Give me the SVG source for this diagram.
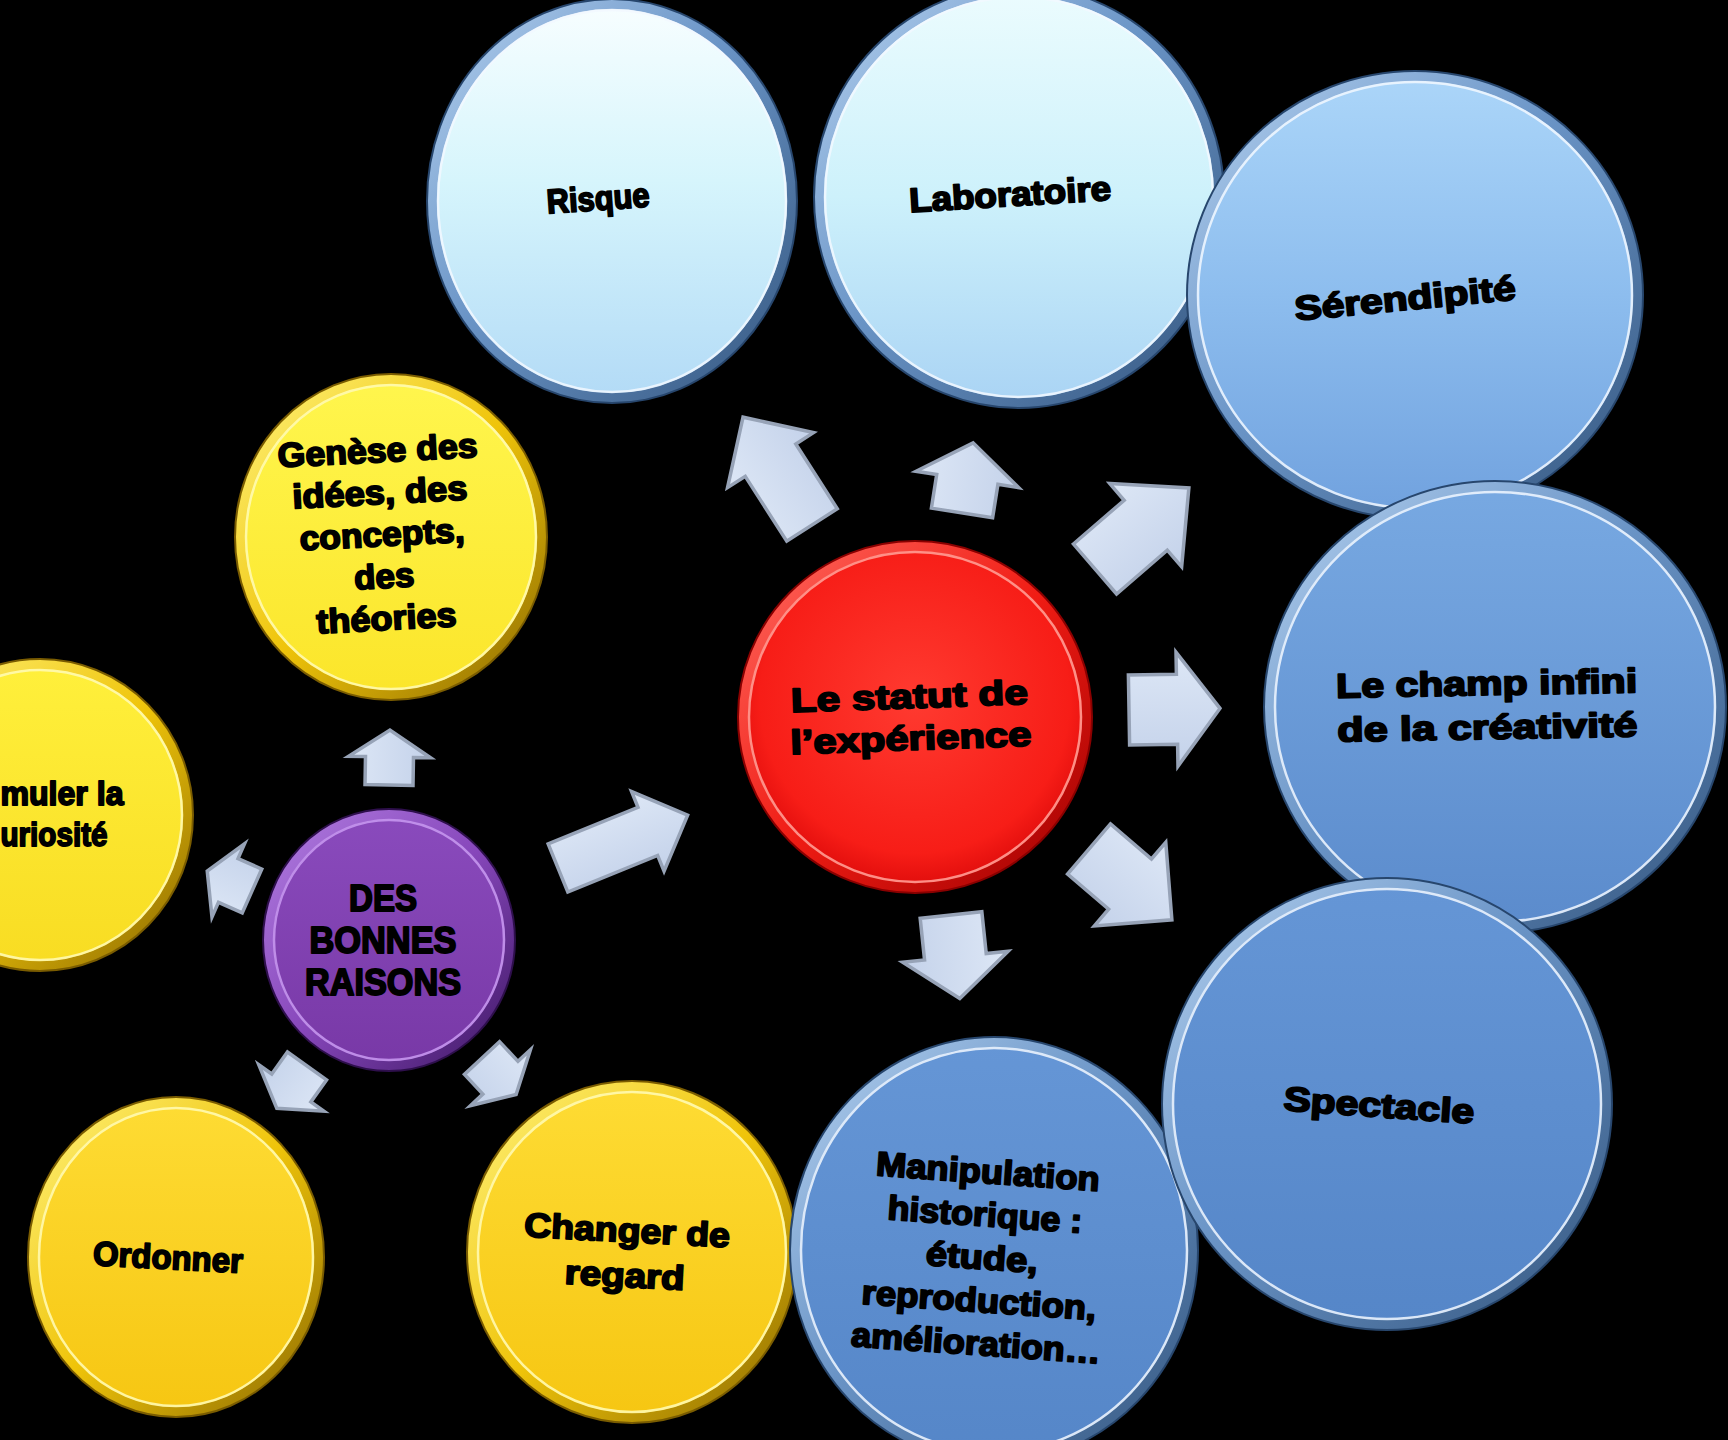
<svg xmlns="http://www.w3.org/2000/svg" width="1728" height="1440" viewBox="0 0 1728 1440">
  <defs>
    <!-- disc fills -->
    <linearGradient id="gRisque" x1="0" y1="0" x2="0" y2="1">
      <stop offset="0" stop-color="#f8feff"/>
      <stop offset="0.45" stop-color="#d6f5fc"/>
      <stop offset="1" stop-color="#b2daf6"/>
    </linearGradient>
    <linearGradient id="gLabo" x1="0" y1="0" x2="0" y2="1">
      <stop offset="0" stop-color="#ecfcfe"/>
      <stop offset="0.5" stop-color="#cdf1fb"/>
      <stop offset="1" stop-color="#a9d3f4"/>
    </linearGradient>
    <linearGradient id="gSeren" x1="0" y1="0" x2="0" y2="1">
      <stop offset="0" stop-color="#acd6f9"/>
      <stop offset="0.5" stop-color="#8dbdee"/>
      <stop offset="1" stop-color="#70a1de"/>
    </linearGradient>
    <linearGradient id="gChamp" x1="0" y1="0" x2="0" y2="1">
      <stop offset="0" stop-color="#78a9e2"/>
      <stop offset="1" stop-color="#5b8bcc"/>
    </linearGradient>
    <linearGradient id="gDeep" x1="0" y1="0" x2="0" y2="1">
      <stop offset="0" stop-color="#6596d6"/>
      <stop offset="1" stop-color="#5586c8"/>
    </linearGradient>
    <radialGradient id="gRed" cx="0.5" cy="0.45" r="0.55">
      <stop offset="0" stop-color="#ff3a30"/>
      <stop offset="0.8" stop-color="#f71d17"/>
      <stop offset="1" stop-color="#dc0a0a"/>
    </radialGradient>
    <linearGradient id="gPurple" x1="0" y1="0" x2="0" y2="1">
      <stop offset="0" stop-color="#8a4bbd"/>
      <stop offset="1" stop-color="#7838a6"/>
    </linearGradient>
    <linearGradient id="gYellowLight" x1="0" y1="0" x2="0" y2="1">
      <stop offset="0" stop-color="#fff64e"/>
      <stop offset="1" stop-color="#fbe52a"/>
    </linearGradient>
    <linearGradient id="gYellow" x1="0" y1="0" x2="0" y2="1">
      <stop offset="0" stop-color="#fff03c"/>
      <stop offset="1" stop-color="#f8dc22"/>
    </linearGradient>
    <linearGradient id="gGold" x1="0" y1="0" x2="0" y2="1">
      <stop offset="0" stop-color="#fedc34"/>
      <stop offset="1" stop-color="#f6c612"/>
    </linearGradient>

    <!-- bevelled rims -->
    <linearGradient id="rimBlue" x1="0" y1="0" x2="1" y2="1">
      <stop offset="0" stop-color="#b3d0ef"/>
      <stop offset="0.45" stop-color="#6a94c6"/>
      <stop offset="1" stop-color="#34567f"/>
    </linearGradient>
    <linearGradient id="rimRed" x1="0" y1="0" x2="1" y2="1">
      <stop offset="0" stop-color="#ff6a60"/>
      <stop offset="0.5" stop-color="#f01c14"/>
      <stop offset="1" stop-color="#9e0000"/>
    </linearGradient>
    <linearGradient id="rimPurple" x1="0" y1="0" x2="1" y2="1">
      <stop offset="0" stop-color="#b07ce0"/>
      <stop offset="0.5" stop-color="#8747bb"/>
      <stop offset="1" stop-color="#3e1764"/>
    </linearGradient>
    <linearGradient id="rimGold" x1="0" y1="0" x2="1" y2="1">
      <stop offset="0" stop-color="#fff27a"/>
      <stop offset="0.5" stop-color="#efc40a"/>
      <stop offset="1" stop-color="#8c6a00"/>
    </linearGradient>

    <linearGradient id="arrowFill" x1="0" y1="0" x2="0" y2="1">
      <stop offset="0" stop-color="#dde7f6"/>
      <stop offset="1" stop-color="#c4d2ea"/>
    </linearGradient>

    <style>
      .lbl { font-family: "Liberation Sans", Arial, sans-serif; font-weight: bold; font-size: 34px;
             fill: #000; stroke: #000; stroke-width: 1.9; stroke-linejoin: round; text-anchor: middle; }
      .rimB { fill: none; stroke: url(#rimBlue); stroke-width: 10; }
      .rimR { fill: none; stroke: url(#rimRed); stroke-width: 10; }
      .rimP { fill: none; stroke: url(#rimPurple); stroke-width: 10; }
      .rimY { fill: none; stroke: url(#rimGold); stroke-width: 10; }
      .edgeB { fill: none; stroke: #27466d; stroke-width: 2; }
      .edgeR { fill: none; stroke: #8a0000; stroke-width: 2; }
      .edgeP { fill: none; stroke: #2e0f4c; stroke-width: 2; }
      .edgeY { fill: none; stroke: #7a5c00; stroke-width: 2; }
      .hl { fill: none; stroke: #f2f8ff; stroke-width: 2.5; opacity: 0.85; }
      .hlR { fill: none; stroke: #ff9c94; stroke-width: 2.5; opacity: 0.9; }
      .hlP { fill: none; stroke: #c596ee; stroke-width: 2.5; opacity: 0.9; }
      .hlY { fill: none; stroke: #fff9b0; stroke-width: 2.5; opacity: 0.9; }
      .arrow { fill: url(#arrowFill); stroke: #97a3b7; stroke-width: 3.5; stroke-linejoin: miter; }
    </style>
  </defs>

  <rect width="1728" height="1440" fill="#000"/>

  <!-- block arrows -->
  <g id="connectors">
    <g transform="translate(812,525) rotate(-122.6)">
      <polygon class="arrow" points="0,-30 77,-30 77,-51 128,0 77,51 77,30 0,30"/>
    </g>
    <g transform="translate(962,513) rotate(-81)">
      <polygon class="arrow" points="0,-31 34,-31 34,-52 71,0 34,52 34,31 0,31"/>
    </g>
    <g transform="translate(1095,569) rotate(-40.8)">
      <polygon class="arrow" points="0,-33 67,-33 67,-55 124,0 67,55 67,33 0,33"/>
    </g>
    <g transform="translate(1129,710) rotate(-1)">
      <polygon class="arrow" points="0,-35 48,-35 48,-57 91,0 48,57 48,35 0,35"/>
    </g>
    <g transform="translate(1089,849) rotate(40.5)">
      <polygon class="arrow" points="0,-33 54,-33 54,-55 109,0 54,55 54,33 0,33"/>
    </g>
    <g transform="translate(951,915) rotate(84)">
      <polygon class="arrow" points="0,-31 42,-31 42,-53 84,0 42,53 42,31 0,31"/>
    </g>
    <g transform="translate(558,868) rotate(-22.2)">
      <polygon class="arrow" points="0,-26 97,-26 97,-43 140,0 97,43 97,26 0,26"/>
    </g>
    <g transform="translate(389,785) rotate(-89)">
      <polygon class="arrow" points="0,-24 28,-24 28,-41 55,0 28,41 28,24 0,24"/>
    </g>
    <g transform="translate(252,891) rotate(-156)">
      <polygon class="arrow" points="0,-24 26,-24 26,-40 49,0 26,40 26,24 0,24"/>
    </g>
    <g transform="translate(307,1066) rotate(125.5)">
      <polygon class="arrow" points="0,-24 27,-24 27,-40 52,0 27,40 27,24 0,24"/>
    </g>
    <g transform="translate(482,1058) rotate(47)">
      <polygon class="arrow" points="0,-24 27,-24 27,-41 50,0 27,41 27,24 0,24"/>
    </g>
  </g>

  <!-- yellow discs -->
  <g id="stimuler">
    <ellipse cx="40" cy="815" rx="152" ry="155" fill="url(#gYellow)"/>
    <ellipse class="rimY" cx="40" cy="815" rx="148" ry="151"/>
    <ellipse class="edgeY" cx="40" cy="815" rx="153" ry="156"/>
    <ellipse class="hlY" cx="40" cy="815" rx="142" ry="145"/>
    <text class="lbl" x="62" y="805" textLength="123" lengthAdjust="spacingAndGlyphs">muler la</text>
    <text class="lbl" x="54" y="846" textLength="107" lengthAdjust="spacingAndGlyphs">uriosité</text>
  </g>

  <g id="ordonner">
    <ellipse cx="176" cy="1257" rx="147" ry="159" fill="url(#gGold)"/>
    <ellipse class="rimY" cx="176" cy="1257" rx="143" ry="155"/>
    <ellipse class="edgeY" cx="176" cy="1257" rx="148" ry="160"/>
    <ellipse class="hlY" cx="176" cy="1257" rx="137" ry="149"/>
    <text class="lbl" x="168" y="1269" textLength="150" lengthAdjust="spacingAndGlyphs" transform="rotate(3 168 1257)">Ordonner</text>
  </g>

  <g id="changer">
    <ellipse cx="632" cy="1252" rx="164" ry="170" fill="url(#gGold)"/>
    <ellipse class="rimY" cx="632" cy="1252" rx="160" ry="166"/>
    <ellipse class="edgeY" cx="632" cy="1252" rx="165" ry="171"/>
    <ellipse class="hlY" cx="632" cy="1252" rx="154" ry="160"/>
    <g transform="rotate(3 626 1252)">
      <text class="lbl" x="626" y="1242" textLength="206" lengthAdjust="spacingAndGlyphs">Changer de</text>
      <text class="lbl" x="626" y="1287" textLength="120" lengthAdjust="spacingAndGlyphs">regard</text>
    </g>
  </g>

  <g id="genese">
    <ellipse cx="391" cy="537" rx="155" ry="162" fill="url(#gYellowLight)"/>
    <ellipse class="rimY" cx="391" cy="537" rx="151" ry="158"/>
    <ellipse class="edgeY" cx="391" cy="537" rx="156" ry="163"/>
    <ellipse class="hlY" cx="391" cy="537" rx="145" ry="152"/>
    <g transform="rotate(-3 382 535)">
      <text class="lbl" x="382" y="462" textLength="200" lengthAdjust="spacingAndGlyphs">Genèse des</text>
      <text class="lbl" x="382" y="504" textLength="175" lengthAdjust="spacingAndGlyphs">idées, des</text>
      <text class="lbl" x="382" y="546" textLength="165" lengthAdjust="spacingAndGlyphs">concepts,</text>
      <text class="lbl" x="382" y="588" textLength="60" lengthAdjust="spacingAndGlyphs">des</text>
      <text class="lbl" x="382" y="630" textLength="140" lengthAdjust="spacingAndGlyphs">théories</text>
    </g>
  </g>

  <!-- blue discs -->
  <g id="manipulation">
    <ellipse cx="994" cy="1250" rx="203" ry="212" fill="url(#gDeep)"/>
    <ellipse class="rimB" cx="994" cy="1250" rx="199" ry="208"/>
    <ellipse class="edgeB" cx="994" cy="1250" rx="204" ry="213"/>
    <ellipse class="hl" cx="994" cy="1250" rx="193" ry="202"/>
    <g transform="rotate(4 982 1258)">
      <text class="lbl" x="982" y="1183" textLength="224" lengthAdjust="spacingAndGlyphs">Manipulation</text>
      <text class="lbl" x="982" y="1226" textLength="195" lengthAdjust="spacingAndGlyphs">historique :</text>
      <text class="lbl" x="982" y="1269" textLength="112" lengthAdjust="spacingAndGlyphs">étude,</text>
      <text class="lbl" x="982" y="1312" textLength="235" lengthAdjust="spacingAndGlyphs">reproduction,</text>
      <text class="lbl" x="982" y="1355" textLength="250" lengthAdjust="spacingAndGlyphs">amélioration…</text>
    </g>
  </g>

  <g id="risque">
    <ellipse cx="612" cy="201" rx="184" ry="201" fill="url(#gRisque)"/>
    <ellipse class="rimB" cx="612" cy="201" rx="180" ry="197"/>
    <ellipse class="edgeB" cx="612" cy="201" rx="185" ry="202"/>
    <ellipse class="hl" cx="612" cy="201" rx="174" ry="191"/>
    <text class="lbl" x="598" y="210" textLength="103" lengthAdjust="spacingAndGlyphs" transform="rotate(-4 598 198)">Risque</text>
  </g>

  <g id="laboratoire">
    <ellipse cx="1019" cy="197" rx="204" ry="210" fill="url(#gLabo)"/>
    <ellipse class="rimB" cx="1019" cy="197" rx="200" ry="206"/>
    <ellipse class="edgeB" cx="1019" cy="197" rx="205" ry="211"/>
    <ellipse class="hl" cx="1019" cy="197" rx="194" ry="200"/>
    <text class="lbl" x="1010" y="206" textLength="202" lengthAdjust="spacingAndGlyphs" transform="rotate(-3.5 1010 194)">Laboratoire</text>
  </g>

  <g id="serendipite">
    <ellipse cx="1415" cy="295" rx="227" ry="223" fill="url(#gSeren)"/>
    <ellipse class="rimB" cx="1415" cy="295" rx="223" ry="219"/>
    <ellipse class="edgeB" cx="1415" cy="295" rx="228" ry="224"/>
    <ellipse class="hl" cx="1415" cy="295" rx="217" ry="213"/>
    <text class="lbl" x="1405" y="310" textLength="222" lengthAdjust="spacingAndGlyphs" transform="rotate(-5.5 1405 298)">Sérendipité</text>
  </g>

  <g id="champ">
    <ellipse cx="1495" cy="707" rx="230" ry="225" fill="url(#gChamp)"/>
    <ellipse class="rimB" cx="1495" cy="707" rx="226" ry="221"/>
    <ellipse class="edgeB" cx="1495" cy="707" rx="231" ry="226"/>
    <ellipse class="hl" cx="1495" cy="707" rx="220" ry="215"/>
    <g transform="rotate(-1 1487 705)">
      <text class="lbl" x="1487" y="695" textLength="301" lengthAdjust="spacingAndGlyphs">Le champ infini</text>
      <text class="lbl" x="1487" y="739" textLength="300" lengthAdjust="spacingAndGlyphs">de la créativité</text>
    </g>
  </g>

  <g id="spectacle">
    <ellipse cx="1387" cy="1104" rx="224" ry="225" fill="url(#gDeep)"/>
    <ellipse class="rimB" cx="1387" cy="1104" rx="220" ry="221"/>
    <ellipse class="edgeB" cx="1387" cy="1104" rx="225" ry="226"/>
    <ellipse class="hl" cx="1387" cy="1104" rx="214" ry="215"/>
    <text class="lbl" x="1379" y="1117" textLength="191" lengthAdjust="spacingAndGlyphs" transform="rotate(4 1379 1105)">Spectacle</text>
  </g>

  <!-- centre discs -->
  <g id="statut">
    <ellipse cx="915" cy="717" rx="176" ry="175" fill="url(#gRed)"/>
    <ellipse class="rimR" cx="915" cy="717" rx="172" ry="171"/>
    <ellipse class="edgeR" cx="915" cy="717" rx="177" ry="176"/>
    <ellipse class="hlR" cx="915" cy="717" rx="166" ry="165"/>
    <g transform="rotate(-2 910 717)">
      <text class="lbl" x="910" y="708" textLength="237" lengthAdjust="spacingAndGlyphs">Le statut de</text>
      <text class="lbl" x="910" y="750" textLength="241" lengthAdjust="spacingAndGlyphs">l’expérience</text>
    </g>
  </g>

  <g id="raisons">
    <ellipse cx="389" cy="940" rx="125" ry="130" fill="url(#gPurple)"/>
    <ellipse class="rimP" cx="389" cy="940" rx="121" ry="126"/>
    <ellipse class="edgeP" cx="389" cy="940" rx="126" ry="131"/>
    <ellipse class="hlP" cx="389" cy="940" rx="115" ry="120"/>
    <text class="lbl" x="383" y="911" textLength="68" lengthAdjust="spacingAndGlyphs" style="font-size:36px">DES</text>
    <text class="lbl" x="383" y="953" textLength="147" lengthAdjust="spacingAndGlyphs" style="font-size:36px">BONNES</text>
    <text class="lbl" x="383" y="995" textLength="156" lengthAdjust="spacingAndGlyphs" style="font-size:36px">RAISONS</text>
  </g>
</svg>
